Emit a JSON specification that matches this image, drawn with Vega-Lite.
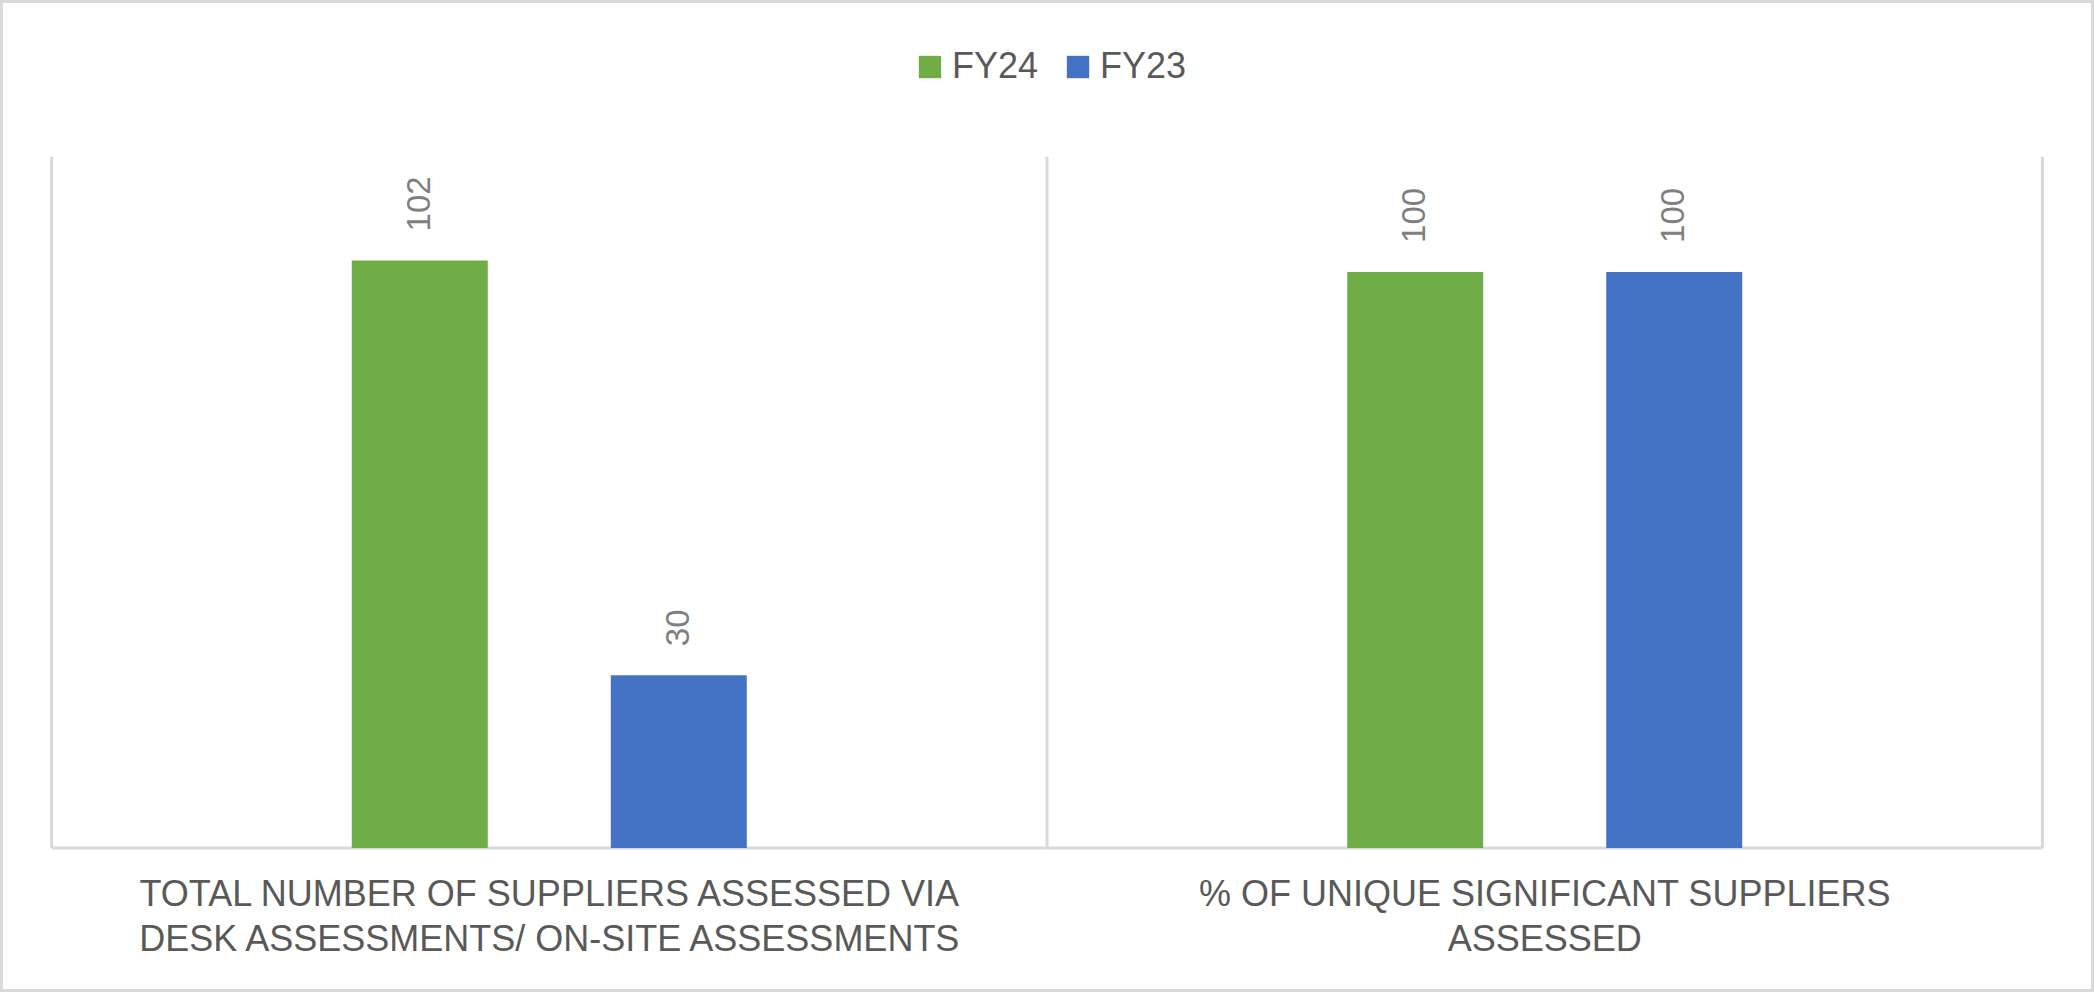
{
  "$schema": "https://vega.github.io/schema/vega-lite/v6.json",
  "width": 2094,
  "height": 992,
  "autosize": {"type": "none"},
  "padding": 0,
  "background": "white",
  "config": {
    "view": {"stroke": "#d9d9d9", "strokeWidth": 6},
    "font": "Liberation Sans"
  },
  "datasets": {
    "bars": [
      {"category": "TOTAL NUMBER OF SUPPLIERS ASSESSED VIA\nDESK ASSESSMENTS/ ON-SITE ASSESSMENTS", "year": "FY24", "value": 102},
      {"category": "TOTAL NUMBER OF SUPPLIERS ASSESSED VIA\nDESK ASSESSMENTS/ ON-SITE ASSESSMENTS", "year": "FY23", "value": 30},
      {"category": "% OF UNIQUE SIGNIFICANT SUPPLIERS\nASSESSED", "year": "FY24", "value": 100},
      {"category": "% OF UNIQUE SIGNIFICANT SUPPLIERS\nASSESSED", "year": "FY23", "value": 100}
    ],
    "categories": [
      {"category": "TOTAL NUMBER OF SUPPLIERS ASSESSED VIA\nDESK ASSESSMENTS/ ON-SITE ASSESSMENTS", "last": false},
      {"category": "% OF UNIQUE SIGNIFICANT SUPPLIERS\nASSESSED", "last": true}
    ]
  },
  "layer": [
    {
      "data": {"name": "categories"},
      "mark": {"type": "rule", "color": "#d9d9d9", "strokeWidth": 3},
      "encoding": {
        "x": {
          "field": "category", "type": "nominal", "bandPosition": -0.76,
          "scale": {
            "type": "band",
            "domain": ["TOTAL NUMBER OF SUPPLIERS ASSESSED VIA\nDESK ASSESSMENTS/ ON-SITE ASSESSMENTS", "% OF UNIQUE SIGNIFICANT SUPPLIERS\nASSESSED"],
            "paddingInner": 0.6032, "paddingOuter": 0.3534
          },
          "axis": null
        },
        "y": {"datum": 0, "type": "quantitative", "scale": {"domain": [-25, 147.2], "nice": false, "zero": false}, "axis": null},
        "y2": {"datum": 120}
      }
    },
    {
      "data": {"name": "categories"},
      "transform": [{"filter": "datum.last"}],
      "mark": {"type": "rule", "color": "#d9d9d9", "strokeWidth": 3},
      "encoding": {
        "x": {"field": "category", "type": "nominal", "bandPosition": 1.76},
        "y": {"datum": 0, "type": "quantitative"},
        "y2": {"datum": 120}
      }
    },
    {
      "data": {"name": "categories"},
      "mark": {"type": "rule", "color": "#d9d9d9", "strokeWidth": 3},
      "encoding": {
        "x": {"field": "category", "type": "nominal", "bandPosition": -0.76},
        "x2": {"field": "category", "bandPosition": 1.76},
        "y": {"datum": 0, "type": "quantitative"}
      }
    },
    {
      "data": {"name": "bars"},
      "mark": {"type": "bar"},
      "encoding": {
        "x": {"field": "category", "type": "nominal"},
        "xOffset": {"field": "year", "type": "nominal", "scale": {"domain": ["FY24", "FY23"], "paddingInner": 0.475, "paddingOuter": 0}},
        "y": {"field": "value", "type": "quantitative"},
        "color": {
          "field": "year", "type": "nominal",
          "scale": {"domain": ["FY24", "FY23"], "range": ["#70ad47", "#4472c4"]},
          "legend": {
            "orient": "none", "legendX": 912, "legendY": 49, "direction": "horizontal",
            "title": null, "symbolType": "square", "symbolSize": 500, "symbolStrokeWidth": 0,
            "labelFontSize": 36, "labelColor": "#595959", "labelFont": "Liberation Sans",
            "columnPadding": 21, "labelOffset": 4, "padding": 0
          }
        }
      }
    },
    {
      "data": {"name": "bars"},
      "mark": {"type": "text", "angle": 270, "align": "left", "baseline": "middle", "dx": 29, "fontSize": 33, "color": "#7f7f7f"},
      "encoding": {
        "x": {"field": "category", "type": "nominal"},
        "xOffset": {"field": "year", "type": "nominal"},
        "y": {"field": "value", "type": "quantitative"},
        "text": {"field": "value", "type": "quantitative"}
      }
    },
    {
      "data": {"name": "categories"},
      "mark": {"type": "text", "align": "center", "baseline": "alphabetic", "dy": 58, "fontSize": 36, "lineHeight": 45, "lineBreak": "\n", "color": "#595959"},
      "encoding": {
        "x": {"field": "category", "type": "nominal"},
        "y": {"datum": 0, "type": "quantitative"},
        "text": {"field": "category", "type": "nominal"}
      }
    }
  ]
}
